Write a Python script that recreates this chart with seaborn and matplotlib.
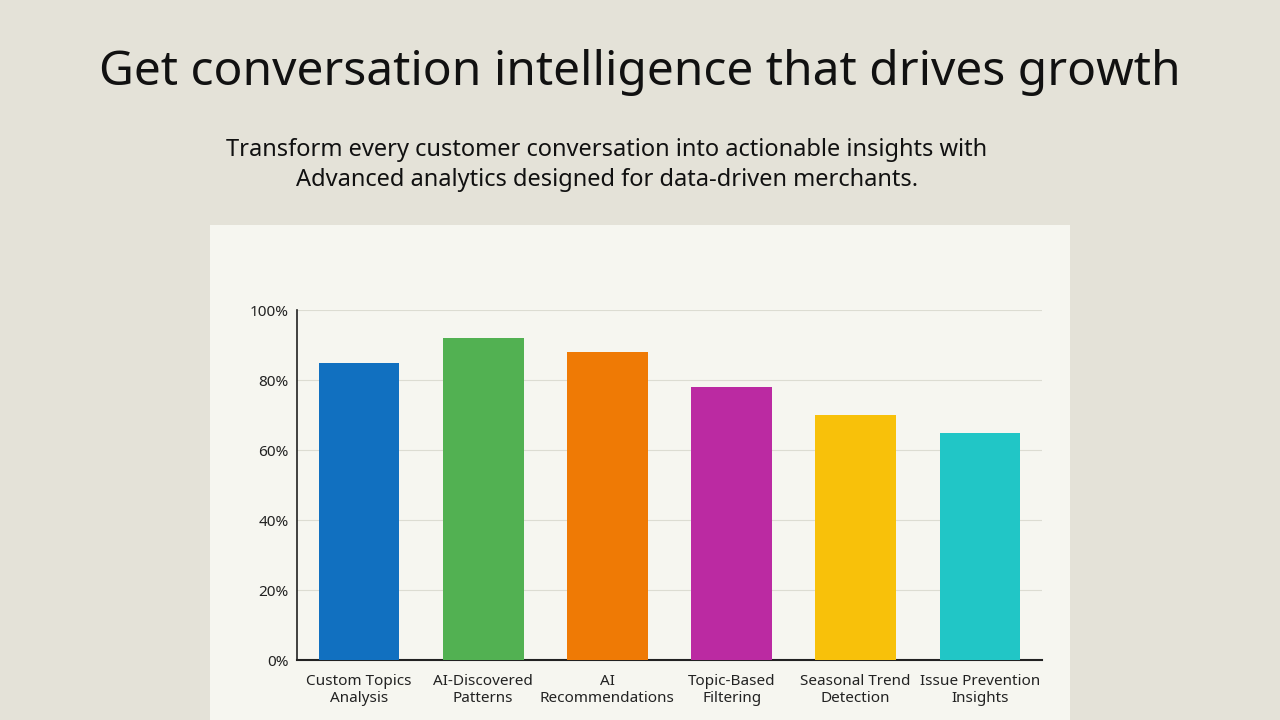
import matplotlib
matplotlib.use('Agg')
import matplotlib.pyplot as plt
import matplotlib.patches as mpatches
import seaborn as sns
import pandas as pd

categories = ['Custom Topics\nAnalysis', 'AI-Discovered\nPatterns', 'AI\nRecommendations',
              'Topic-Based\nFiltering', 'Seasonal Trend\nDetection', 'Issue Prevention\nInsights']
values = [85, 92, 88, 78, 70, 65]
colors = ['#1170c0', '#52b152', '#ef7a05', '#bb2aa2', '#f8c10a', '#21c6c6']
ticks = [0, 20, 40, 60, 80, 100]

sns.set_theme(style='white')
plt.rcParams['font.family'] = ['Noto Sans', 'DejaVu Sans']

df = pd.DataFrame({'cat': categories, 'val': values})

fig = plt.figure(figsize=(12.8, 7.2), dpi=100)
fig.patch.set_facecolor('#e4e2d8')

# panel behind the chart
fig.patches.append(mpatches.Rectangle((210 / 1280, 0), 860 / 1280, 495 / 720,
                                      transform=fig.transFigure, facecolor='#f6f6f0',
                                      edgecolor='none', zorder=-5))

fig.text(0.5, 1 - 73 / 720, 'Get conversation intelligence that drives growth',
         ha='center', va='center', fontsize=34.5, color='#111111')
fig.text(0.474, 1 - 165 / 720,
         'Transform every customer conversation into actionable insights with\n'
         'Advanced analytics designed for data-driven merchants.',
         ha='center', va='center', fontsize=17, color='#111111', linespacing=1.3)

ax = fig.add_axes([297 / 1280, 60 / 720, 745 / 1280, 350 / 720])
ax.set_facecolor('none')
sns.barplot(data=df, x='cat', y='val', hue='cat', palette=colors, legend=False,
            width=0.65, saturation=1, linewidth=0, ax=ax, zorder=3)
ax.set_ylim(0, 100)
ax.set_xlim(-0.5, 5.5)
ax.set_yticks(ticks)
ax.set_yticklabels([f'{t}%' for t in ticks], fontsize=11, color='#222222')
ax.tick_params(axis='x', labelsize=11, colors='#222222', length=0, pad=10)
ax.tick_params(axis='y', length=0, pad=6)
ax.set_xlabel('')
ax.set_ylabel('')
ax.grid(axis='y', color='#dcdcd2', linewidth=0.8, zorder=0)
for s in ['top', 'right']:
    ax.spines[s].set_visible(False)
ax.spines['left'].set_color('#222222')
ax.spines['bottom'].set_color('#222222')
ax.spines['left'].set_linewidth(1.2)
ax.spines['bottom'].set_linewidth(1.5)

fig.savefig('out.png', dpi=100, facecolor=fig.get_facecolor())
